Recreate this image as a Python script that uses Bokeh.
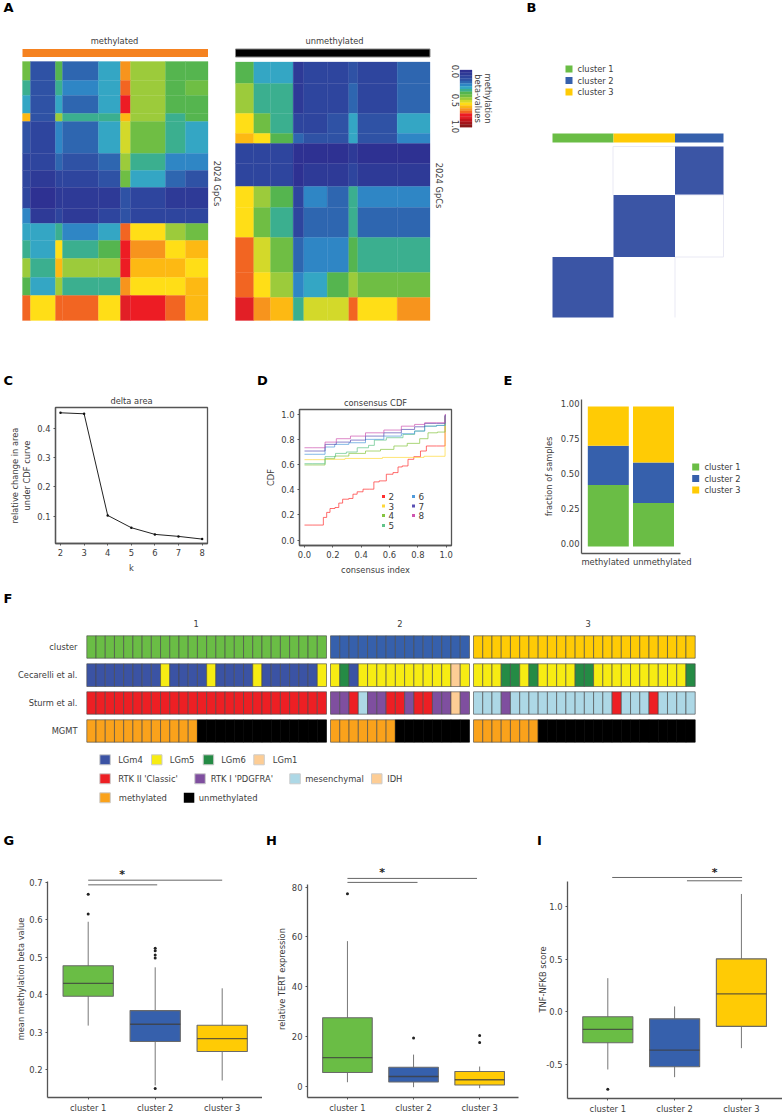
import math
from bokeh.plotting import figure
from bokeh.layouts import column, row
from bokeh.models import Range1d, LinearColorMapper, FixedTicker, ColumnDataSource
from bokeh.core.properties import value
from bokeh.transform import transform
from bokeh.embed import file_html
from bokeh.resources import INLINE

FONT = "DejaVu Sans"
TXT = "#3c3c3c"
AXC = "#555555"
C1, C2, C3 = "#6ABD45", "#3660AC", "#FFCB05"
cluster_names = ["cluster 1", "cluster 2", "cluster 3"]

# ---------- A: heat maps, mean beta value of the visible blocks ----------
beta_palette = ["#2E3192", "#2E3A97", "#2E459E", "#2F52A5", "#2E66B0", "#2F86C5", "#34A6C4",
                "#3BAF8F", "#55B54F", "#6FBE44", "#9CCB3B", "#D3D92A", "#FFDE17", "#FDB913",
                "#F7941D", "#F26522", "#ED1C24", "#E21F26", "#C4161C", "#A6161B", "#8B1A1A"]
meth_cols = [22, 30, 55, 62, 98, 120, 130, 165, 185, 207.5]
meth_rows = [61, 80, 95, 113, 121, 153, 170, 187, 208, 223, 240, 258, 277, 295, 320]
meth_beta = [
    [.45, .18, .42, .22, .30, .70, .50, .42, .40],
    [.35, .17, .38, .24, .33, .75, .52, .42, .45],
    [.30, .15, .33, .20, .30, .78, .50, .40, .42],
    [.62, .18, .50, .38, .38, .62, .48, .38, .40],
    [.18, .12, .28, .20, .30, .55, .45, .35, .30],
    [.12, .10, .22, .16, .22, .50, .38, .28, .25],
    [.10, .06, .12, .12, .15, .45, .30, .22, .18],
    [.10, .03, .08, .05, .08, .18, .12, .08, .07],
    [.25, .06, .14, .08, .12, .18, .14, .10, .10],
    [.32, .30, .38, .28, .33, .74, .60, .48, .46],
    [.38, .32, .58, .34, .40, .80, .68, .58, .62],
    [.52, .34, .62, .50, .50, .78, .66, .62, .60],
    [.42, .30, .52, .34, .38, .70, .60, .58, .62],
    [.72, .60, .76, .72, .58, .84, .80, .74, .66],
]
unmeth_cols = [235, 253.3, 270, 292.7, 303.3, 326.7, 348.3, 357.3, 396.7, 429.5]
unmeth_rows = [61.5, 83, 113, 133, 143, 163, 186, 207, 237, 272, 297, 320]
unmeth_beta = [
    [.40, .30, .30, .05, .10, .12, .16, .13, .20],
    [.48, .38, .36, .08, .10, .14, .22, .14, .22],
    [.58, .45, .38, .12, .14, .18, .30, .16, .30],
    [.62, .60, .42, .20, .15, .18, .30, .18, .25],
    [.14, .12, .10, .02, .03, .03, .06, .04, .03],
    [.14, .14, .12, .04, .05, .05, .12, .05, .05],
    [.58, .50, .42, .14, .25, .22, .38, .28, .28],
    [.60, .46, .38, .12, .20, .20, .36, .22, .20],
    [.72, .55, .46, .20, .25, .28, .40, .36, .38],
    [.74, .60, .50, .28, .30, .40, .50, .45, .46],
    [.82, .68, .66, .34, .56, .55, .72, .58, .68],
]
# ---------- B ----------
cons_x = [552, 613, 674.5, 723]
cons_y = [146, 194.5, 256.5, 317]
cons_matrix = [[0, 0, 1], [0, 1, 0], [1, 0, 0]]
cons_bar = [C1, C3, C2]
# ---------- C ----------
k_values = [2, 3, 4, 5, 6, 7, 8]
delta_area = [.4524, .449, .1034, .0615, .0388, .032, .0228]
# ---------- D ----------
cdf_colors = {2: "#FF3030", 3: "#FFD83A", 4: "#86C440", 5: "#62C48A", 6: "#4F9BDB", 7: "#5A50B4", 8: "#CF55B0"}
cdf_x = {
    2: [0, .118, .148, .165, .195, .235, .249, .289, .336, .348, .395, .431, .485, .494, .56, .595, .654, .666, .713, .748, .795, .842, .878, .986, .998],
    3: [0, .118, .172, .4, .7, .986, .998],
    4: [0, .118, .172, .254, .372, .489, .584, .678, .772, .854, .889, .986, .998],
    5: [0, .118, .172, .266, .325, .419, .485, .501, .654, .736, .818, .878, .986, .998],
    6: [0, .118, .172, .254, .372, .489, .631, .736, .818, .878, .986, .998],
    7: [0, .118, .172, .277, .372, .489, .631, .736, .818, .878, .986, .998],
    8: [0, .118, .172, .277, .372, .489, .631, .736, .818, .878, .986, .998],
}
cdf_y = {
    2: [.119, .119, .18, .22, .251, .259, .294, .325, .331, .365, .384, .405, .405, .463, .471, .524, .537, .582, .59, .643, .664, .709, .749, .749, .987],
    3: [.64, .64, .643, .65, .658, .667, .98],
    4: [.598, .598, .648, .669, .69, .709, .722, .749, .77, .807, .854, .86, .985],
    5: [.608, .608, .664, .69, .701, .735, .754, .796, .815, .841, .868, .907, .913, .99],
    6: [.683, .683, .741, .762, .775, .802, .828, .847, .868, .907, .913, .99],
    7: [.709, .709, .762, .78, .796, .828, .854, .881, .902, .929, .929, .995],
    8: [.735, .735, .78, .807, .828, .854, .876, .907, .921, .934, .934, 1.0],
}
# ---------- E ----------
mgmt_groups = ["methylated", "unmethylated"]
frac_c1 = [.44, .31]
frac_c2 = [.28, .29]
frac_c3 = [.28, .40]
# ---------- F ----------
f_colors = {"c1": C1, "c2": C2, "c3": C3, "B": "#3B53A4", "Y": "#F7EC13", "G": "#258B45", "P": "#FDCD95",
            "R": "#ED1F24", "U": "#7F4F9F", "M": "#ADD8E6", "O": "#FAA21B", "K": "#000000"}
f_row_names = ["cluster", "Cecarelli et al.", "Sturm et al.", "MGMT"]
f_cluster = [["c1"] * 26, ["c2"] * 15, ["c3"] * 24]
f_cecarelli = [
    list("BBBBBBBBYBBBBYBBBBYBBBBBBY"),
    list("YGBYYYYYYYYYYPY"),
    list("YYYGGYGYYYYGGYYYYYYYYYYG"),
]
f_sturm = [
    list("RRRRRRRRRRRRRRRRRRRRRRRRRR"),
    list("UURMUURRURRUUPU"),
    list("MMMUMMMMMMMMMMMRMMMRMMMM"),
]
f_mgmt = [list("O" * 12 + "K" * 14), list("O" * 7 + "K" * 8), list("O" * 7 + "K" * 17)]
f_legend_rows = [
    [("B", "LGm4"), ("Y", "LGm5"), ("G", "LGm6"), ("P", "LGm1")],
    [("R", "RTK II 'Classic'"), ("U", "RTK I 'PDGFRA'"), ("M", "mesenchymal"), ("P", "IDH")],
    [("O", "methylated"), ("K", "unmethylated")],
]
# ---------- G H I : box statistics ----------
g_stats = dict(lo=[.3234, .1636, .1769], q1=[.4016, .2808, .2542], med=[.4362, .327, .2888], q3=[.4833, .3634, .3243], hi=[.6005, .4789, .4229])
g_out_x = [1, 1, 2, 2, 2, 2, 2]
g_out_y = [.674, .621, .5295, .5233, .5117, .5037, .1556]
g_tick_labels = ["0.2", "0.3", "0.4", "0.5", "0.6", "0.7"]
h_stats = dict(lo=[2.4, .4, 0], q1=[6.3, 2.5, 1.3], med=[12.3, 4.7, 3.4], q3=[28.3, 8.4, 6.7], hi=[59.1, 13.5, 8.7])
h_out_x = [1, 2, 3, 3]
h_out_y = [78.1, 20.2, 21.2, 18.4]
h_tick_labels = ["0", "20", "40", "60", "80"]
i_stats = dict(lo=[-.53, -.603, -.327], q1=[-.276, -.504, -.12], med=[-.149, -.346, .19], q3=[-.0285, -.048, .523], hi=[.339, .07, 1.14])
i_out_x = [1]
i_out_y = [-.717]
i_tick_labels = ["-0.5", "0.0", "0.5", "1.0"]

GEOM = {}


def base(x0, x1, y0, y1, fx0, fx1, fy0, fy1, xr, yr, axes=True):
    kw = {} if axes else dict(x_axis_location=None, y_axis_location=None)
    p = figure(frame_width=fx1 - fx0, frame_height=fy1 - fy0,
               min_border_left=fx0 - x0, min_border_right=x1 - fx1,
               min_border_top=fy0 - y0, min_border_bottom=y1 - fy1,
               x_range=Range1d(*xr), y_range=Range1d(*yr), frame_align=False,
               toolbar_location=None, output_backend="svg", outline_line_color=None, **kw)
    p.grid.visible = False
    # page-pixel to data helpers for the annotations (yr = value at frame bottom, value at frame top)
    GEOM[p.id] = dict(
        to_x=lambda px: xr[0] + (px - fx0) * (xr[1] - xr[0]) / (fx1 - fx0),
        to_y=lambda py: yr[1] + (py - fy0) * (yr[0] - yr[1]) / (fy1 - fy0))
    return p


def txt(p, px, py, s, size=8.3, align="left", baseline="middle", angle=0, color=TXT, bold=False):
    g = GEOM[p.id]
    p.text(x=[g["to_x"](px)], y=[g["to_y"](py)], text=[s], text_font=value(FONT), text_font_size=f"{size}px",
           text_align=align, text_baseline=baseline, angle=angle, text_color=color,
           text_font_style="bold" if bold else "normal")


def swatch(p, px0, px1, py0, py1, color, line=None):
    g = GEOM[p.id]
    p.quad(left=[g["to_x"](px0)], right=[g["to_x"](px1)], top=[g["to_y"](py0)], bottom=[g["to_y"](py1)],
           fill_color=color, line_color=line)


def head(p, s, off):
    p.title.text = s
    p.title.align = "center"
    p.title.offset = off
    p.title.standoff = 4
    p.title.text_font = FONT
    p.title.text_font_size = "8.3px"
    p.title.text_font_style = "normal"
    p.title.text_color = TXT


def style(p, ylabel="", xlabel="", yticks=None, xticks=None, ystand=6, xstand=4):
    for ax in (p.xaxis[0], p.yaxis[0]):
        ax.axis_line_color = AXC
        ax.axis_line_width = 1.3
        ax.major_tick_line_color = AXC
        ax.major_tick_out = 2
        ax.major_tick_in = 0
        ax.minor_tick_out = 0
        ax.minor_tick_in = 0
        ax.major_label_text_font = FONT
        ax.major_label_text_font_size = "8.4px"
        ax.major_label_text_color = TXT
        ax.axis_label_text_font = FONT
        ax.axis_label_text_font_size = "8.3px"
        ax.axis_label_text_font_style = "normal"
        ax.axis_label_text_color = TXT
        ax.major_label_standoff = 3
    p.yaxis[0].axis_label = ylabel
    p.xaxis[0].axis_label = xlabel or None
    p.yaxis[0].axis_label_standoff = ystand
    p.xaxis[0].axis_label_standoff = xstand
    if yticks is not None:
        p.yaxis[0].ticker = FixedTicker(ticks=yticks)
    if xticks is not None:
        p.xaxis[0].ticker = FixedTicker(ticks=xticks)


# ============ top row: A + B ============
top = base(0, 782, 0, 365, 0, 782, 0, 365, (0, 782), (365, 0), axes=False)
mapper = LinearColorMapper(palette=beta_palette, low=0, high=1)


def heat(p, cols, rows, matrix):
    L, R, T, B, V = [], [], [], [], []
    for i, r in enumerate(matrix):
        for j, v in enumerate(r):
            L.append(cols[j]); R.append(cols[j + 1]); T.append(rows[i]); B.append(rows[i + 1]); V.append(v)
    src = ColumnDataSource(dict(l=L, r=R, t=T, b=B, v=V))
    p.quad(left="l", right="r", top="t", bottom="b", source=src,
           fill_color=transform("v", mapper), line_color=transform("v", mapper), line_width=.3)


heat(top, meth_cols, meth_rows, meth_beta)
heat(top, unmeth_cols, unmeth_rows, unmeth_beta)
swatch(top, 22, 207.5, 48.5, 56.5, "#F58220")
swatch(top, 235, 429.5, 48.5, 56.5, "#000000", "#888888")
txt(top, 114, 40.5, "methylated", align="center")
txt(top, 334, 40.5, "unmethylated", align="center")
txt(top, 216, 183, "2024 GpCs", align="center", angle=-math.pi / 2)
txt(top, 438, 185, "2024 GpCs", align="center", angle=-math.pi / 2)
# colour key of the beta values
key_h = (126.7 - 69.5) / 21
top.quad(left=[459.5] * 21, right=[471.5] * 21,
         top=[69.5 + i * key_h for i in range(21)], bottom=[69.5 + (i + 1) * key_h for i in range(21)],
         fill_color=beta_palette, line_color=beta_palette, line_width=.3)
for v, y in (("0.0", 71), ("0.5", 100), ("1.0", 126)):
    txt(top, 455, y, v, size=8.4, align="center", angle=-math.pi / 2)
txt(top, 487, 98, "methylation", align="center", angle=-math.pi / 2)
txt(top, 477, 98, "beta-values", align="center", angle=-math.pi / 2)
# B
for i, r in enumerate(cons_matrix):
    for j, v in enumerate(r):
        if v:
            swatch(top, cons_x[j], cons_x[j + 1], cons_y[i], cons_y[i + 1], "#3B55A5")
top.multi_line(xs=[[612.5, 612.5, 674.5], [674.5, 723, 723], [674.5, 674.5], [674.5, 723]],
               ys=[[194.5, 146, 146], [194.5, 194.5, 256.5], [256.5, 317], [256.5, 256.5]],
               line_color="#E9E9F4", line_width=1)
for j, c in enumerate(cons_bar):
    swatch(top, cons_x[j], cons_x[j + 1], 133, 142, c)
for name, c, y in zip(cluster_names, (C1, C2, C3), (68.5, 80, 91.5)):
    swatch(top, 565, 572, y - 3.5, y + 3.5, c)
    txt(top, 577, y, name)
txt(top, 3, 7, "A", size=13, bold=True, color="#000000")
txt(top, 526, 7, "B", size=13, bold=True, color="#000000")

# ============ strip with the letters of the second row ============
strip2 = base(0, 782, 365, 390, 0, 782, 365, 390, (0, 782), (390, 365), axes=False)
txt(strip2, 3, 380, "C", size=13, bold=True, color="#000000")
txt(strip2, 262, 380, "D", size=13, align="center", bold=True, color="#000000")
txt(strip2, 503, 380, "E", size=13, bold=True, color="#000000")

# ============ C ============
pc = base(0, 250, 390, 590, 55, 207, 407, 543, (1.788, 8.229), (.0078, .4704))
pc.line(k_values, delta_area, line_color="#222222", line_width=1)
pc.scatter(k_values, delta_area, size=2.5, color="#111111", line_color=None)
style(pc, ylabel="relative change in area\nunder CDF curve", xlabel="k", yticks=[.1, .2, .3, .4], xticks=k_values, ystand=2)
pc.outline_line_color = AXC
pc.outline_line_width = 1.3
head(pc, "delta area", -4)

# ============ D ============
pd_ = base(250, 500, 390, 590, 299, 451, 409, 545, (-.0353, 1.0374), (-.0438, 1.0398))
for k in cdf_x:
    pd_.step(cdf_x[k], cdf_y[k], mode="center", line_color=cdf_colors[k], line_width=1, line_alpha=.7)
style(pd_, ylabel="CDF", xlabel="consensus index", yticks=[0, .2, .4, .6, .8, 1], xticks=[0, .2, .4, .6, .8, 1], ystand=2)
pd_.xaxis[0].major_label_overrides = {0: "0.0", 1: "1.0"}
pd_.yaxis[0].major_label_overrides = {0: "0.0", 1: "1.0"}
pd_.outline_line_color = AXC
pd_.outline_line_width = 1.3
leg_pos = {2: (383, 496), 3: (383, 505.5), 4: (383, 515), 5: (383, 525), 6: (413, 496), 7: (413, 505.5), 8: (413, 515)}
for k, (lx, ly) in leg_pos.items():
    swatch(pd_, lx - 1.5, lx + 1.5, ly - 1.5, ly + 1.5, cdf_colors[k])
    txt(pd_, lx + 5, ly, str(k), size=8.8)
head(pd_, "consensus CDF", 3)

# ============ E ============
pe = base(500, 782, 390, 590, 581, 745, 399, 553, (.407, 4.035), (-.05, 1.05))
xs = [1, 2]
b0 = [0, 0]
b1 = frac_c1
b2 = [a + b for a, b in zip(frac_c1, frac_c2)]
b3 = [a + b for a, b in zip(b2, frac_c3)]
pe.vbar(x=xs, width=.907, bottom=b0, top=b1, fill_color=C1, line_color=None)
pe.vbar(x=xs, width=.907, bottom=b1, top=b2, fill_color=C2, line_color=None)
pe.vbar(x=xs, width=.907, bottom=b2, top=b3, fill_color=C3, line_color=None)
e_ticks = [.024, .274, .524, .774, 1.024]
style(pe, ylabel="fraction of samples", yticks=e_ticks, xticks=[.938, 2.193], ystand=4)
pe.xaxis[0].major_label_overrides = {.938: mgmt_groups[0], 2.193: mgmt_groups[1]}
pe.yaxis[0].major_label_overrides = dict(zip(e_ticks, ["0.00", "0.25", "0.50", "0.75", "1.00"]))
pe.xaxis[0].major_tick_out = 0
pe.yaxis[0].major_tick_out = 0
pe.xaxis[0].bounds = (.407, 2.597)
pe.yaxis[0].major_label_standoff = 2
for name, c, y in zip(cluster_names, (C1, C2, C3), (466.5, 478, 489.5)):
    swatch(pe, 691.7, 698.7, y - 3.5, y + 3.5, c)
    txt(pe, 704, y, name)

# ============ F ============
pf = base(0, 782, 590, 820, 0, 782, 590, 820, (0, 782), (820, 590), axes=False)
f_groups = [(86.3, 326), (330, 469), (473, 694.7)]
f_rows = [(635.3, 657.7), (663.3, 686), (691.3, 713.7), (719.3, 741.7)]
for (ry0, ry1), data, name in zip(f_rows, (f_cluster, f_cecarelli, f_sturm, f_mgmt), f_row_names):
    L, R, C, E = [], [], [], []
    for (gx0, gx1), cells in zip(f_groups, data):
        w = (gx1 - gx0) / len(cells)
        for i, c in enumerate(cells):
            L.append(gx0 + i * w); R.append(gx0 + (i + 1) * w); C.append(f_colors[c])
            E.append("#000000" if c == "K" else "#4a4a4a")
    pf.quad(left=L, right=R, top=[ry0] * len(L), bottom=[ry1] * len(L), fill_color=C,
            line_color=E, line_alpha=.8, line_width=.8)
    txt(pf, 77, (ry0 + ry1) / 2, name, align="right")
for s, x in (("1", 195.7), ("2", 399.5), ("3", 587.7)):
    txt(pf, x, 623, s, align="center")
f_leg_layout = [
    (759.3, [(99.3, 117.7), (151, 169.3), (202.7, 220.7), (253.3, 272.3)]),
    (778.3, [(99.3, 117.7), (194.3, 210.3), (289.3, 304.7), (371, 386.7)]),
    (797.3, [(99.3, 118.3), (183.3, 198.3)]),
]
for (ly, slots), items in zip(f_leg_layout, f_legend_rows):
    for (sx, tx), (c, name) in zip(slots, items):
        swatch(pf, sx, sx + 10.5, ly - 5, ly + 5, f_colors[c], "#cccccc" if c != "K" else None)
        txt(pf, tx, ly, name, size=8.4)
txt(pf, 3, 598, "F", size=13, bold=True, color="#000000")

# ============ strip with the letters of the last row ============
strip4 = base(0, 782, 820, 852, 0, 782, 820, 852, (0, 782), (852, 820), axes=False)
txt(strip4, 3, 840, "G", size=13, bold=True, color="#000000")
txt(strip4, 271, 840, "H", size=13, align="center", bold=True, color="#000000")
txt(strip4, 539, 840, "I", size=13, align="center", bold=True, color="#000000")


# ============ G H I ============
def box(p, st, ox, oy, colors=(C1, C2, C3)):
    xs = [1, 2, 3]
    p.segment(xs, st["lo"], xs, st["hi"], line_color="#777777", line_width=1)
    p.vbar(x=xs, width=.75, bottom=st["q1"], top=st["q3"], fill_color=list(colors), line_color="#6a6a6a", line_width=1.1)
    p.segment([x - .375 for x in xs], st["med"], [x + .375 for x in xs], st["med"], line_color="#3f3f3f", line_width=1.3, line_alpha=.8)
    p.scatter(ox, oy, size=3, color="#222222", line_color=None)


def sig(p, x0s, x1s, ys, sx, sy):
    p.segment(x0s, ys, x1s, ys, line_color="#666666", line_width=1)
    p.text(x=[sx], y=[sy], text=["*"], text_font=value(FONT), text_font_size="11px", text_font_style="bold",
           text_align="center", text_baseline="middle", text_color="#222222")


# the reference prints its tick labels about 2 px above the tick positions
def shifted_ticks(p, ticks, labels, shift):
    pos = [t + shift for t in ticks]
    p.yaxis[0].ticker = FixedTicker(ticks=pos)
    p.yaxis[0].major_label_overrides = dict(zip(pos, labels))


pg = base(0, 262, 852, 1112, 47, 262, 860, 1097, (.3925, 3.6015), (.1315, .764))
box(pg, g_stats, g_out_x, g_out_y)
sig(pg, [1, 1], [3, 2.03], [.7115, .699], 1.507, .727)
style(pg, ylabel="mean methylation beta value", xticks=[1, 2, 3], ystand=0)
shifted_ticks(pg, [.2, .3, .4, .5, .6, .7], g_tick_labels, .0053)
pg.xaxis[0].major_label_overrides = {1: cluster_names[0], 2: cluster_names[1], 3: cluster_names[2]}
pg.yaxis[0].bounds = (.1315, .7079)

ph = base(262, 520, 852, 1112, 307, 518, 860, 1097, (.3958, 3.5876), (-3.74, 91.5))
box(ph, h_stats, h_out_x, h_out_y)
sig(ph, [1, 1], [2.96, 2.06], [84.3, 82.7], 1.524, 86.5)
style(ph, ylabel="relative TERT expression", xticks=[1, 2, 3], ystand=2)
shifted_ticks(ph, [0, 20, 40, 60, 80], h_tick_labels, .8)
ph.xaxis[0].major_label_overrides = {1: cluster_names[0], 2: cluster_names[1], 3: cluster_names[2]}
ph.yaxis[0].bounds = (-3.74, 81.9)

pi_ = base(520, 782, 852, 1112, 567, 782, 860, 1098, (.3967, 3.615), (-.806, 1.4586))
box(pi_, i_stats, i_out_x, i_out_y)
sig(pi_, [1.066, 2.185], [3.01, 3.01], [1.297, 1.2655], 2.6, 1.34)
style(pi_, ylabel="TNF-NFKB score", xticks=[1, 2, 3], ystand=-5)
shifted_ticks(pi_, [-.5, 0, .5, 1], i_tick_labels, .019)
pi_.xaxis[0].major_label_overrides = {1: cluster_names[0], 2: cluster_names[1], 3: cluster_names[2]}
pi_.yaxis[0].bounds = (-.806, 1.2593)

layout = column(
    top,
    strip2,
    row(pc, pd_, pe, spacing=0),
    pf,
    strip4,
    row(pg, ph, pi_, spacing=0),
    spacing=0,
    styles={"position": "absolute", "left": "0px", "top": "0px"},
)
open("out.html", "w").write(file_html(layout, INLINE))
